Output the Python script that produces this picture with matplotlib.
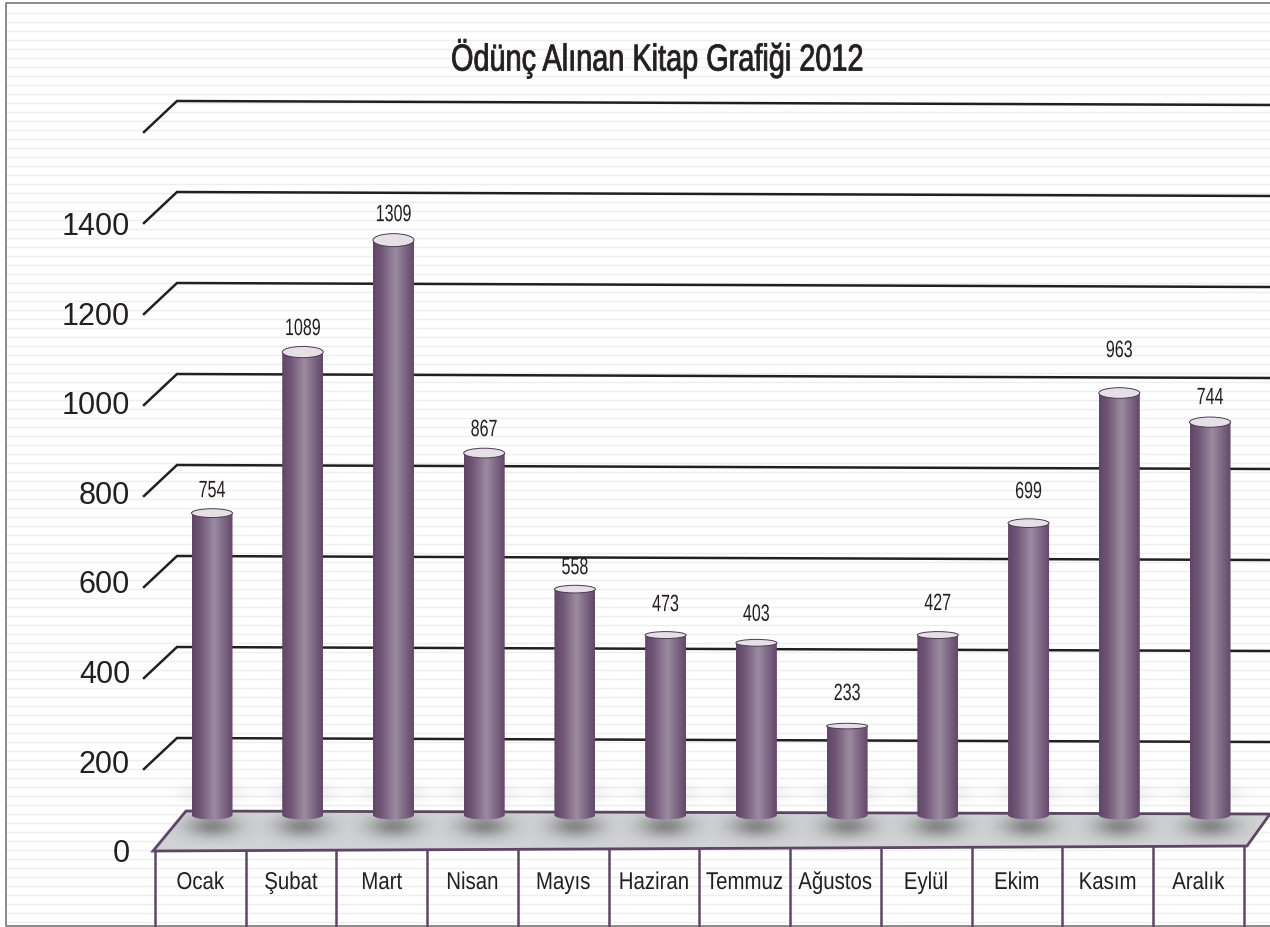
import numpy as np
import matplotlib
matplotlib.use('Agg')
import matplotlib.pyplot as plt
from matplotlib.colors import LinearSegmentedColormap
from matplotlib.patches import Ellipse, PathPatch, Polygon
from matplotlib.path import Path
from matplotlib.patheffects import AbstractPathEffect
from matplotlib.transforms import Affine2D

months = ['Ocak', 'Şubat', 'Mart', 'Nisan', 'Mayıs', 'Haziran', 'Temmuz',
          'Ağustos', 'Eylül', 'Ekim', 'Kasım', 'Aralık']
# printed labels do not quite agree with the drawn heights, so keep both
printed_values = [754, 1089, 1309, 867, 558, 473, 403, 233, 427, 699, 963, 744]
bar_heights = [692, 1046, 1292, 824, 525, 424, 407, 224, 424, 670, 956, 892]
tick_values = [0, 200, 400, 600, 800, 1000, 1200, 1400]
grid_values = [200, 400, 600, 800, 1000, 1200, 1400, 1600]

# layout: one category is 90.73 px wide, one unit is 0.455 px high
W, H = 1270, 927
CAT_PX = 90.73
UNIT_PX = 0.455
X_LEFT = -212 / CAT_PX
X_RIGHT = (W - 212) / CAT_PX
Y_TOP = 828 / UNIT_PX
Y_BOTTOM = (828 - H) / UNIT_PX
BASE = (828 - 812) / UNIT_PX
BAR_W = 41 / CAT_PX
label_gap_px = [14, 15, 17, 15, 13, 22, 20, 24, 23, 23, 34, 16]

PURPLE = '#5f4566'
INK = '#231f20'


class Squeeze(AbstractPathEffect):
    """Condense a text sideways about its own centre (no narrow font installed)"""

    def __init__(self, sx, bold=0.0):
        self.sx = sx
        self.bold = bold

    def draw_path(self, renderer, gc, tpath, affine, rgbFace):
        box = tpath.get_extents(affine)
        mid = (box.x0 + box.x1) / 2
        squeezed = affine + Affine2D().translate(-mid, 0).scale(self.sx, 1).translate(mid, 0)
        gc0 = renderer.new_gc()
        gc0.copy_properties(gc)
        gc0.set_linewidth(self.bold)
        gc0.set_foreground(INK)
        renderer.draw_path(gc0, tpath, squeezed, rgbFace)
        gc0.restore()


def cx(px):
    return (px - 212) / CAT_PX


def vy(px):
    return (828 - px) / UNIT_PX


fig = plt.figure(figsize=(12.7, 9.27), dpi=100, facecolor='white')
ax = fig.add_axes([0, 0, 1, 1])
ax.set_autoscale_on(False)
ax.set_xlim(X_LEFT, X_RIGHT)
ax.set_ylim(Y_BOTTOM, Y_TOP)
ax.axis('off')

# paper stripes
for py in np.arange(13, H, 9):
    ax.plot([cx(7), X_RIGHT], [vy(py), vy(py)], color='#eeeeee', lw=1.0, zorder=1)

# frame
ax.plot([X_RIGHT, cx(6), cx(6), X_RIGHT],
        [vy(3), vy(3), vy(926), vy(926)], color='#777777', lw=1.2, zorder=2)

# wall grid with the little slanted foot
for v in grid_values:
    ax.plot([cx(144), cx(177), X_RIGHT],
            [v - 32 / UNIT_PX, v - 1 / UNIT_PX, v - 5 / UNIT_PX],
            color=INK, lw=1.8, zorder=3, solid_joinstyle='miter')

for v in tick_values:
    ax.text(cx(130), v * 0.985 - 58, str(v), ha='right', va='center',
            family='Liberation Sans', fontsize=22, color=INK, zorder=6)

# floor
floor = Polygon([(cx(153), vy(851)), (cx(186), vy(811)), (X_RIGHT, vy(814)),
                 (cx(1247), vy(846))], closed=True, facecolor='#d0d2d4',
                edgecolor=PURPLE, lw=2, zorder=4, joinstyle='miter')
ax.add_patch(floor)

# table cells below the floor
for i in range(13):
    x = i - 57 / CAT_PX
    ax.plot([x, x], [vy(851 - i * 0.33), vy(926)], color=PURPLE, lw=1.8, zorder=5)
for i, m in enumerate(months):
    ax.text(i - 12 / CAT_PX, vy(883), m, ha='center', va='center',
            family='Liberation Sans', fontsize=17.5, color=INK, zorder=6,
            path_effects=[Squeeze(0.84)])

# soft shadows at the feet of the bars: grey on the floor, faint on the wall
yy, xx = np.mgrid[-1:1:120j, -1:1:160j]
floor_shadow = np.zeros((120, 160, 4))
floor_shadow[..., 3] = 0.36 * np.exp(-(xx ** 2 + yy ** 2) * 3.2)
wall_shadow = np.zeros((120, 160, 4))
wall_shadow[..., 3] = 0.10 * np.exp(-(xx ** 2 + yy ** 2) * 3)
for i in range(len(months)):
    img = ax.imshow(floor_shadow, extent=(i - 0.5, i + 0.5, BASE - 34 / UNIT_PX, BASE + 6 / UNIT_PX),
                    aspect='auto', zorder=4.5, interpolation='bilinear')
    img.set_clip_path(floor)
    ax.imshow(wall_shadow, extent=(i - 0.55, i + 0.55, BASE + 1 / UNIT_PX, BASE + 36 / UNIT_PX),
              aspect='auto', zorder=2.5, interpolation='bilinear')

# cylinders
cyl = LinearSegmentedColormap.from_list(
    'cyl', [(0, '#5f4566'), (0.2, '#6f5576'), (0.55, '#9c8ca1'), (0.85, '#755d7c'), (1, '#624869')])
grad = np.linspace(0, 1, 128).reshape(1, -1)
for i, (top, val) in enumerate(zip(bar_heights, printed_values)):
    left = i - BAR_W / 2
    right = i + BAR_W / 2
    foot = BASE - 3 / UNIT_PX
    t = np.linspace(np.pi, 2 * np.pi, 30)
    arc = np.column_stack([i + BAR_W / 2 * np.cos(t), foot + 4.5 / UNIT_PX * np.sin(t)])
    verts = np.vstack([[(left, top)], arc, [(right, top)], [(left, top)]])
    clip = PathPatch(Path(verts, closed=True), transform=ax.transData, facecolor='none', edgecolor='none')
    ax.add_patch(clip)
    img = ax.imshow(grad, cmap=cyl, extent=(left, right, foot - 6 / UNIT_PX, top),
                    aspect='auto', zorder=7, interpolation='bilinear')
    img.set_clip_path(clip)

    half_h = 2 + top / 1292 * 4.5
    ax.add_patch(Ellipse((i, top), BAR_W, 2 * half_h / UNIT_PX, facecolor='#e4e0e6',
                         edgecolor='#4c3a52', lw=0.7, zorder=8))
    ax.text(i, top + (label_gap_px[i] + 8) / UNIT_PX, str(val), ha='center', va='center',
            family='Liberation Sans', fontsize=17, color=INK, zorder=9,
            path_effects=[Squeeze(0.68)])

ax.text(cx(657), vy(58), 'Ödünç Alınan Kitap Grafiği 2012', ha='center', va='center',
        family='Liberation Sans', fontsize=27, color=INK, zorder=9,
        path_effects=[Squeeze(0.77, bold=0.6)])

ax.set_xlim(X_LEFT, X_RIGHT)
ax.set_ylim(Y_BOTTOM, Y_TOP)
fig.savefig('out.png', dpi=100)
